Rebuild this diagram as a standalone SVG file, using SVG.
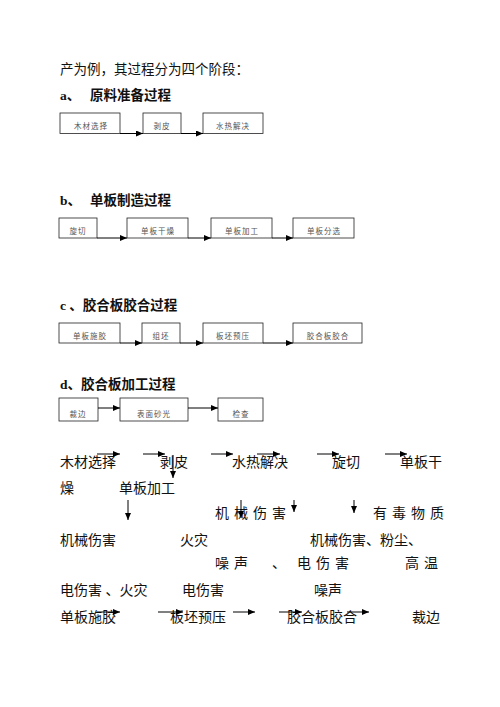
<svg xmlns="http://www.w3.org/2000/svg" width="500" height="707" viewBox="0 0 500 707">
<defs>
<marker id="ah" markerUnits="userSpaceOnUse" markerWidth="7" markerHeight="6" refX="7" refY="3" orient="auto">
<path d="M0,0 L7,3 L0,6 z" fill="#000"/>
</marker>
<style>
.t{font-family:"Liberation Serif","Noto Sans CJK SC",serif;font-size:13.5px;fill:#111}
.h{font-family:"Liberation Serif","Noto Sans CJK SC",serif;font-size:13.5px;font-weight:bold;fill:#111}
.b{font-family:"Liberation Serif","Noto Sans CJK SC",serif;font-size:14px;fill:#111}
.s{font-family:"Liberation Serif","Noto Sans CJK SC",serif;font-size:14px;fill:#111;letter-spacing:5px}
.bx{fill:#fff;stroke:#222;stroke-width:0.8}
.bl{font-family:"Noto Sans CJK SC",sans-serif;font-size:7.5px;fill:#555;text-anchor:middle;letter-spacing:1px}
.c line{stroke:#000;stroke-width:1;marker-end:url(#ah)}
</style>
</defs>
<rect width="500" height="707" fill="#fff"/>
<text class="t" x="60" y="74">产为例，其过程分为四个阶段：</text>
<text class="h" x="60" y="100">a、</text><text class="h" x="90" y="100">原料准备过程</text>
<text class="h" x="60" y="205">b、</text><text class="h" x="90" y="205">单板制造过程</text>
<text class="h" x="60" y="310">c 、胶合板胶合过程</text>
<text class="h" x="60" y="389">d、胶合板加工过程</text>

<g id="a1"><rect class="bx" x="60" y="113" width="60" height="20.5"/><text class="bl" x="91" y="129">木材选择</text></g>
<g id="a2"><rect class="bx" x="143" y="113" width="38" height="20.5"/><text class="bl" x="162" y="129">剥皮</text></g>
<g id="a3"><rect class="bx" x="203" y="113" width="60" height="20.5"/><text class="bl" x="233" y="129">水热解决</text></g>

<g id="b1"><rect class="bx" x="59" y="218" width="38" height="20"/><text class="bl" x="78" y="234">旋切</text></g>
<g id="b2"><rect class="bx" x="127" y="218" width="61" height="20"/><text class="bl" x="158" y="234">单板干燥</text></g>
<g id="b3"><rect class="bx" x="211" y="218" width="61" height="20"/><text class="bl" x="242" y="234">单板加工</text></g>
<g id="b4"><rect class="bx" x="293" y="218" width="61" height="20"/><text class="bl" x="324" y="234">单板分选</text></g>

<g id="c1"><rect class="bx" x="59" y="323" width="61" height="20"/><text class="bl" x="90" y="339">单板施胶</text></g>
<g id="c2"><rect class="bx" x="142" y="323" width="38" height="20"/><text class="bl" x="161" y="339">组坯</text></g>
<g id="c3"><rect class="bx" x="203" y="323" width="60" height="20"/><text class="bl" x="233" y="339">板坯预压</text></g>
<g id="c4"><rect class="bx" x="293" y="323" width="69" height="20"/><text class="bl" x="328" y="339">胶合板胶合</text></g>

<g id="d1"><rect class="bx" x="59" y="398" width="39" height="23"/><text class="bl" x="78" y="417">裁边</text></g>
<g id="d2"><rect class="bx" x="120" y="398" width="68" height="23"/><text class="bl" x="154" y="417">表面砂光</text></g>
<g id="d3"><rect class="bx" x="218" y="398" width="45" height="23"/><text class="bl" x="241" y="417">检查</text></g>

<g id="flow-text">
<text class="b" x="60" y="467">木材选择</text>
<text class="b" x="160" y="467">剥皮</text>
<text class="b" x="232" y="467">水热解决</text>
<text class="b" x="332" y="467">旋切</text>
<text class="b" x="400" y="467">单板干</text>
<text class="b" x="60" y="493">燥</text>
<text class="b" x="119" y="493">单板加工</text>
<text class="s" x="215" y="518">机械伤害</text>
<text class="s" x="373" y="518">有毒物质</text>
<text class="b" x="60" y="545">机械伤害</text>
<text class="b" x="180" y="545">火灾</text>
<text class="b" x="310" y="545">机械伤害、粉尘、</text>
<text class="s" x="215" y="568">噪声</text>
<text class="b" x="272" y="568">、</text>
<text class="s" x="297" y="568">电伤害</text>
<text class="s" x="405" y="568">高温</text>
<text class="b" x="60" y="595">电伤害 、火灾</text>
<text class="b" x="182" y="595">电伤害</text>
<text class="b" x="314" y="595">噪声</text>
<text class="b" x="60" y="622">单板施胶</text>
<text class="b" x="170" y="622">板坯预压</text>
<text class="b" x="287" y="622">胶合板胶合</text>
<text class="b" x="412" y="622">裁边</text>
</g>

<g id="connectors" class="c">
<line x1="120" y1="133.5" x2="143" y2="133.5"/>
<line x1="181" y1="133.5" x2="203" y2="133.5"/>
<line x1="97" y1="238" x2="127" y2="238"/>
<line x1="188" y1="238" x2="211" y2="238"/>
<line x1="272" y1="238" x2="293" y2="238"/>
<line x1="120" y1="343" x2="142" y2="343"/>
<line x1="180" y1="343" x2="203" y2="343"/>
<line x1="263" y1="343" x2="293" y2="343"/>
<line x1="98" y1="408" x2="120" y2="408"/>
<line x1="188" y1="408" x2="218" y2="408"/>

<line x1="97" y1="454" x2="120" y2="454"/>
<line x1="143" y1="454" x2="165" y2="454"/>
<line x1="211" y1="454" x2="233" y2="454"/>
<line x1="257" y1="454" x2="280" y2="454"/>
<line x1="317" y1="454" x2="339" y2="454"/>
<line x1="385" y1="454" x2="407" y2="454"/>
<line x1="173" y1="455" x2="173" y2="478"/>
<line x1="128" y1="500" x2="128" y2="520"/>
<line x1="241" y1="500" x2="241" y2="518"/>
<line x1="294" y1="500" x2="294" y2="512"/>
<line x1="354" y1="500" x2="354" y2="513"/>
<line x1="97" y1="612" x2="120" y2="612"/>
<line x1="158" y1="612" x2="183" y2="612"/>
<line x1="233" y1="612" x2="255" y2="612"/>
<line x1="279" y1="612" x2="302" y2="612"/>
<line x1="347" y1="612" x2="369" y2="612"/>
</g>
</svg>
